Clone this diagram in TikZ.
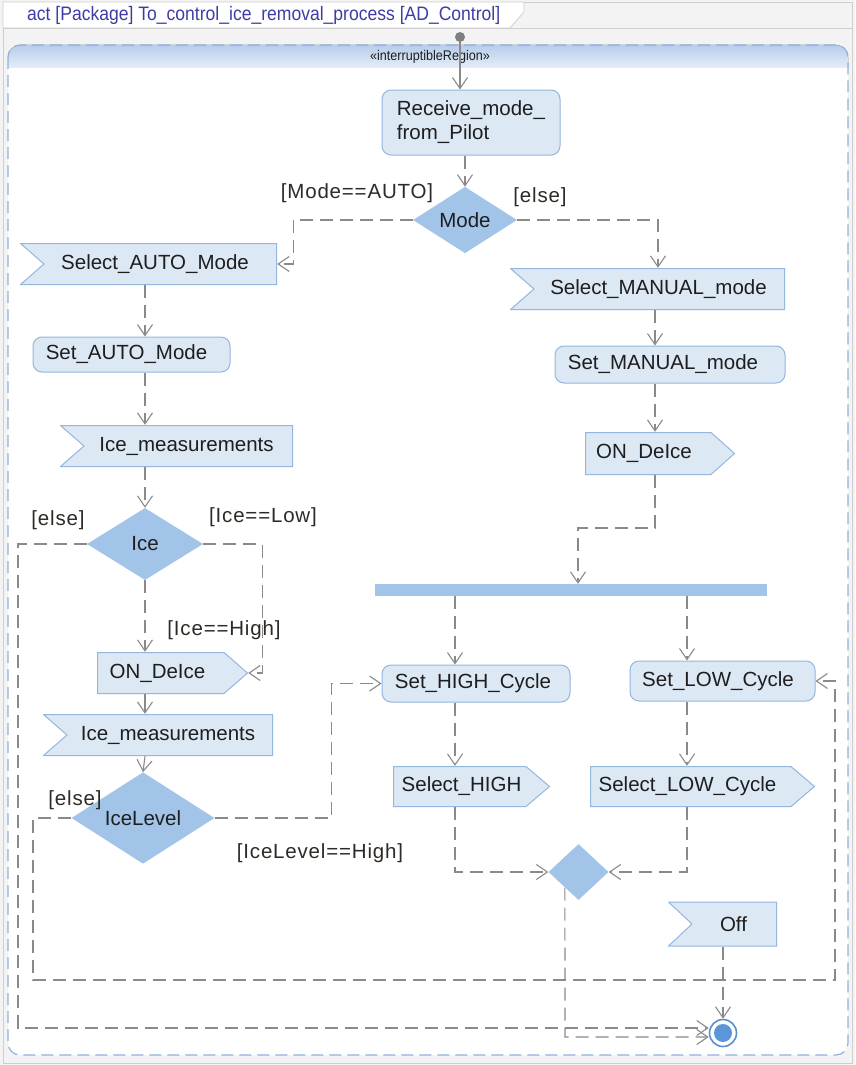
\documentclass[tikz,border=0pt]{standalone}
\usepackage{fontspec}
\setmainfont{Liberation Sans}
\newfontfamily\condfont[FakeStretch=0.9]{Liberation Sans}
\newfontfamily\guardfont[LetterSpace=4]{Liberation Sans}
\usetikzlibrary{shapes.geometric,arrows.meta,calc}

\definecolor{canvasgray}{HTML}{F3F3F3}
\definecolor{framegray}{HTML}{CFCFCF}
\definecolor{titleblue}{HTML}{3D3DA6}
\definecolor{regionline}{HTML}{8FB1DD}
\definecolor{bandtop}{HTML}{B6CDEB}
\definecolor{bandbottom}{HTML}{E6EEF8}
\definecolor{boxfill}{HTML}{DDE8F5}
\definecolor{boxline}{HTML}{94B6DF}
\definecolor{diafill}{HTML}{A2C4E8}
\definecolor{linegray}{HTML}{8A8A8A}
\definecolor{initgray}{HTML}{7F7F7F}
\definecolor{finalring}{HTML}{5A8FD2}
\definecolor{finalfill}{HTML}{5B97D6}
\definecolor{nodetext}{HTML}{1E1E1E}
\definecolor{labeltext}{HTML}{2E2A26}

\begin{document}
\begin{tikzpicture}[x=1pt,y=-1pt,
  txt/.style={font=\fontsize{20.5}{24}\selectfont, text=nodetext},
  guard/.style={font=\guardfont\fontsize{20.5}{23}\selectfont, text=labeltext, inner sep=0pt},
  actbox/.style={txt, rectangle, rounded corners=9pt, draw=boxline, fill=boxfill, line width=1pt, inner sep=0pt},
  sendbox/.style={txt, rectangle, inner sep=0pt, path picture={
      \draw[draw=boxline, fill=boxfill, line width=1pt]
        ([shift={(0.5pt,-0.5pt)}]path picture bounding box.north west)
        -- ([shift={(-24pt,-0.5pt)}]path picture bounding box.north east)
        -- ([xshift=-0.5pt]path picture bounding box.east)
        -- ([shift={(-24pt,0.5pt)}]path picture bounding box.south east)
        -- ([shift={(0.5pt,0.5pt)}]path picture bounding box.south west) -- cycle;}},
  acceptbox/.style={txt, rectangle, inner sep=0pt, path picture={
      \draw[draw=boxline, fill=boxfill, line width=1pt]
        ([shift={(0.5pt,-0.5pt)}]path picture bounding box.north west)
        -- ([shift={(-0.5pt,-0.5pt)}]path picture bounding box.north east)
        -- ([shift={(-0.5pt,0.5pt)}]path picture bounding box.south east)
        -- ([shift={(0.5pt,0.5pt)}]path picture bounding box.south west)
        -- ([xshift=24pt]path picture bounding box.west) -- cycle;}},
  decision/.style={txt, diamond, fill=diafill, inner sep=0pt},
  flow/.style={draw=linegray, line width=1.1pt, dash pattern=on 13pt off 7pt,
    -{Straight Barb[length=11pt,width=15pt]}},
  solidflow/.style={flow, solid},
]
\useasboundingbox (0,0) rectangle (855,1065);
\fill[canvasgray] (0,0) rectangle (855,1065);

% diagram frame and its name tab
\draw[framegray, line width=0.8pt] (3,2) rectangle (852,1063);
\draw[framegray, line width=0.8pt] (3,28) -- (852,28);
\draw[framegray, line width=0.8pt, fill=white] (3,2) -- (524,2) -- (524,12) -- (510,28) -- (3,28) -- cycle;
\node[anchor=west, font=\condfont\fontsize{19.5}{21}\selectfont, text=titleblue, inner sep=0pt] (title) at (27,15)
  {act [Package] To\_control\_ice\_removal\_process [AD\_Control]};

% interruptible region with its header band
\fill[white, rounded corners=12pt] (8,45) rectangle (848,1055);
\fill[top color=bandtop, bottom color=bandbottom] (8,68) [rounded corners=12pt] -- (8,45) -- (848,45) [sharp corners] -- (848,68) -- cycle;
\draw[regionline, line width=1.2pt, dash pattern=on 12pt off 6pt, rounded corners=12pt] (8,45) rectangle (848,1055);
\node[font=\condfont\fontsize{14}{16}\selectfont, text=nodetext, inner sep=0pt] (stereo) at (430,57) {«interruptibleRegion»};

% start and end
\node[circle, fill=initgray, minimum size=10pt, inner sep=0pt] (init) at (460,37) {};
\node[circle, draw=finalring, line width=1.6pt, fill=white, minimum size=27pt, inner sep=0pt,
  path picture={\fill[finalfill] (path picture bounding box.center) circle (9pt);}] (final) at (723,1033) {};

% actions
\node[actbox, minimum width=178pt, minimum height=65pt, align=left] (receive) at (471,122.5)
  {Receive\_mode\_\\from\_Pilot};
\node[decision, minimum width=104pt, minimum height=50pt] (mode) at (465,220) {Mode};

\node[acceptbox, minimum width=257pt, minimum height=42pt] (selauto) at (148.5,264)
  {\hspace*{13pt}Select\_AUTO\_Mode};
\node[actbox, minimum width=197pt, minimum height=35pt] (setauto) at (131.5,354.5)
  {Set\_AUTO\_Mode\hspace*{10pt}};
\node[acceptbox, minimum width=233pt, minimum height=42pt] (icem1) at (176.5,446)
  {\hspace*{20pt}Ice\_measurements};
\node[decision, minimum width=116pt, minimum height=72pt] (ice) at (145,544) {Ice};
\node[sendbox, minimum width=151pt, minimum height=42pt] (ondeiceL) at (172.5,673)
  {ON\_DeIce\hspace*{30pt}};
\node[acceptbox, minimum width=230pt, minimum height=42pt] (icem2) at (158,735)
  {\hspace*{20pt}Ice\_measurements};
\node[decision, minimum width=143pt, minimum height=68pt] (icelevel) at (143,818) {IceLevel};

\node[acceptbox, minimum width=275pt, minimum height=42pt] (selmanual) at (647.5,289)
  {\hspace*{22pt}Select\_MANUAL\_mode};
\node[actbox, minimum width=230pt, minimum height=37pt] (setmanual) at (670,364.5)
  {Set\_MANUAL\_mode\hspace*{14pt}};
\node[sendbox, minimum width=150pt, minimum height=43pt] (ondeiceR) at (660,453.5)
  {ON\_DeIce\hspace*{32pt}};

\node[rectangle, fill=diafill, minimum width=392pt, minimum height=12pt, inner sep=0pt] (fork) at (571,590) {};

\node[actbox, minimum width=188pt, minimum height=37pt] (sethigh) at (476,683.5)
  {Set\_HIGH\_Cycle\hspace*{6pt}};
\node[actbox, minimum width=185pt, minimum height=40pt] (setlow) at (722.5,681)
  {Set\_LOW\_Cycle\hspace*{9pt}};
\node[sendbox, minimum width=157pt, minimum height=41pt] (selhigh) at (471.5,786.5)
  {Select\_HIGH\hspace*{20pt}};
\node[sendbox, minimum width=225pt, minimum height=41pt] (sellow) at (702.5,786.5)
  {Select\_LOW\_Cycle\hspace*{30pt}};
\node[decision, minimum width=60pt, minimum height=56pt] (merge) at (578.5,872) {};
\node[acceptbox, minimum width=109pt, minimum height=45pt] (off) at (722.5,924)
  {\hspace*{22pt}Off};

% guards
\node[guard] (gauto) at (357,193) {[Mode==AUTO]};
\node[guard] (gmanual) at (540,197) {[else]};
\node[guard] (gicelse) at (58,520) {[else]};
\node[guard] (glow) at (263,517) {[Ice==Low]};
\node[guard] (ghigh) at (224,630) {[Ice==High]};
\node[guard] (glvelse) at (75,800) {[else]};
\node[guard] (glvhigh) at (320,853) {[IceLevel==High]};

% column and loop points
\coordinate (rc) at (655,0);
\coordinate (hc) at (455,0);
\coordinate (lc) at (687,0);
\coordinate (jn) at (578,528);
\coordinate (lp1) at (18,1028);
\coordinate (lp2) at (33,980);
\coordinate (lp3) at (835,980);
\coordinate (mp) at (565,1037);

% flows
\draw[solidflow] (init) -- (init |- receive.north);
\draw[flow] (receive.south -| mode) -- (mode.north);
\draw[flow] (mode.west) -| ([xshift=16pt]selauto.east) -- (selauto.east);
\draw[flow] (mode.east) -| ([xshift=10.5pt]selmanual.north);
\draw[flow] (selauto.south -| ice) -- (setauto.north -| ice);
\draw[flow] (setauto.south -| ice) -- (icem1.north -| ice);
\draw[flow] (icem1.south -| ice) -- (ice.north);
\draw[flow] (ice.south) -- (ice.south |- ondeiceL.north);
\draw[flow] (ice.east) -| ([xshift=14pt]ondeiceL.east) -- (ondeiceL.east);
\draw[flow] (ice.west) -| (lp1) -- (lp1 -| final.west);
\draw[solidflow] (ondeiceL.south -| ice) -- (icem2.north -| ice);
\draw[solidflow] (icem2.south -| ice) -- (icelevel.north);
\draw[flow] (icelevel.east) -| ([xshift=-50pt]sethigh.west) -- (sethigh.west);
\draw[flow] (icelevel.west) -| (lp2) -- (lp3) |- (setlow.east);
\draw[flow] (selmanual.south -| rc) -- (setmanual.north -| rc);
\draw[flow] (setmanual.south -| rc) -- (ondeiceR.north -| rc);
\draw[flow] (ondeiceR.south -| rc) |- (jn) -- (jn |- fork.north);
\draw[flow] (fork.south -| hc) -- (sethigh.north -| hc);
\draw[flow] (fork.south -| lc) -- (setlow.north -| lc);
\draw[flow] (sethigh.south -| hc) -- (selhigh.north -| hc);
\draw[flow] (setlow.south -| lc) -- (sellow.north -| lc);
\draw[flow] (selhigh.south -| hc) |- (merge.west);
\draw[flow] (sellow.south -| lc) |- (merge.east);
\draw[flow] ($(merge.west)!0.55!(merge.south)$) -- (mp) -- (mp -| final.west);
\draw[flow] (off.south -| final) -- (final.north);
\end{tikzpicture}
\end{document}
